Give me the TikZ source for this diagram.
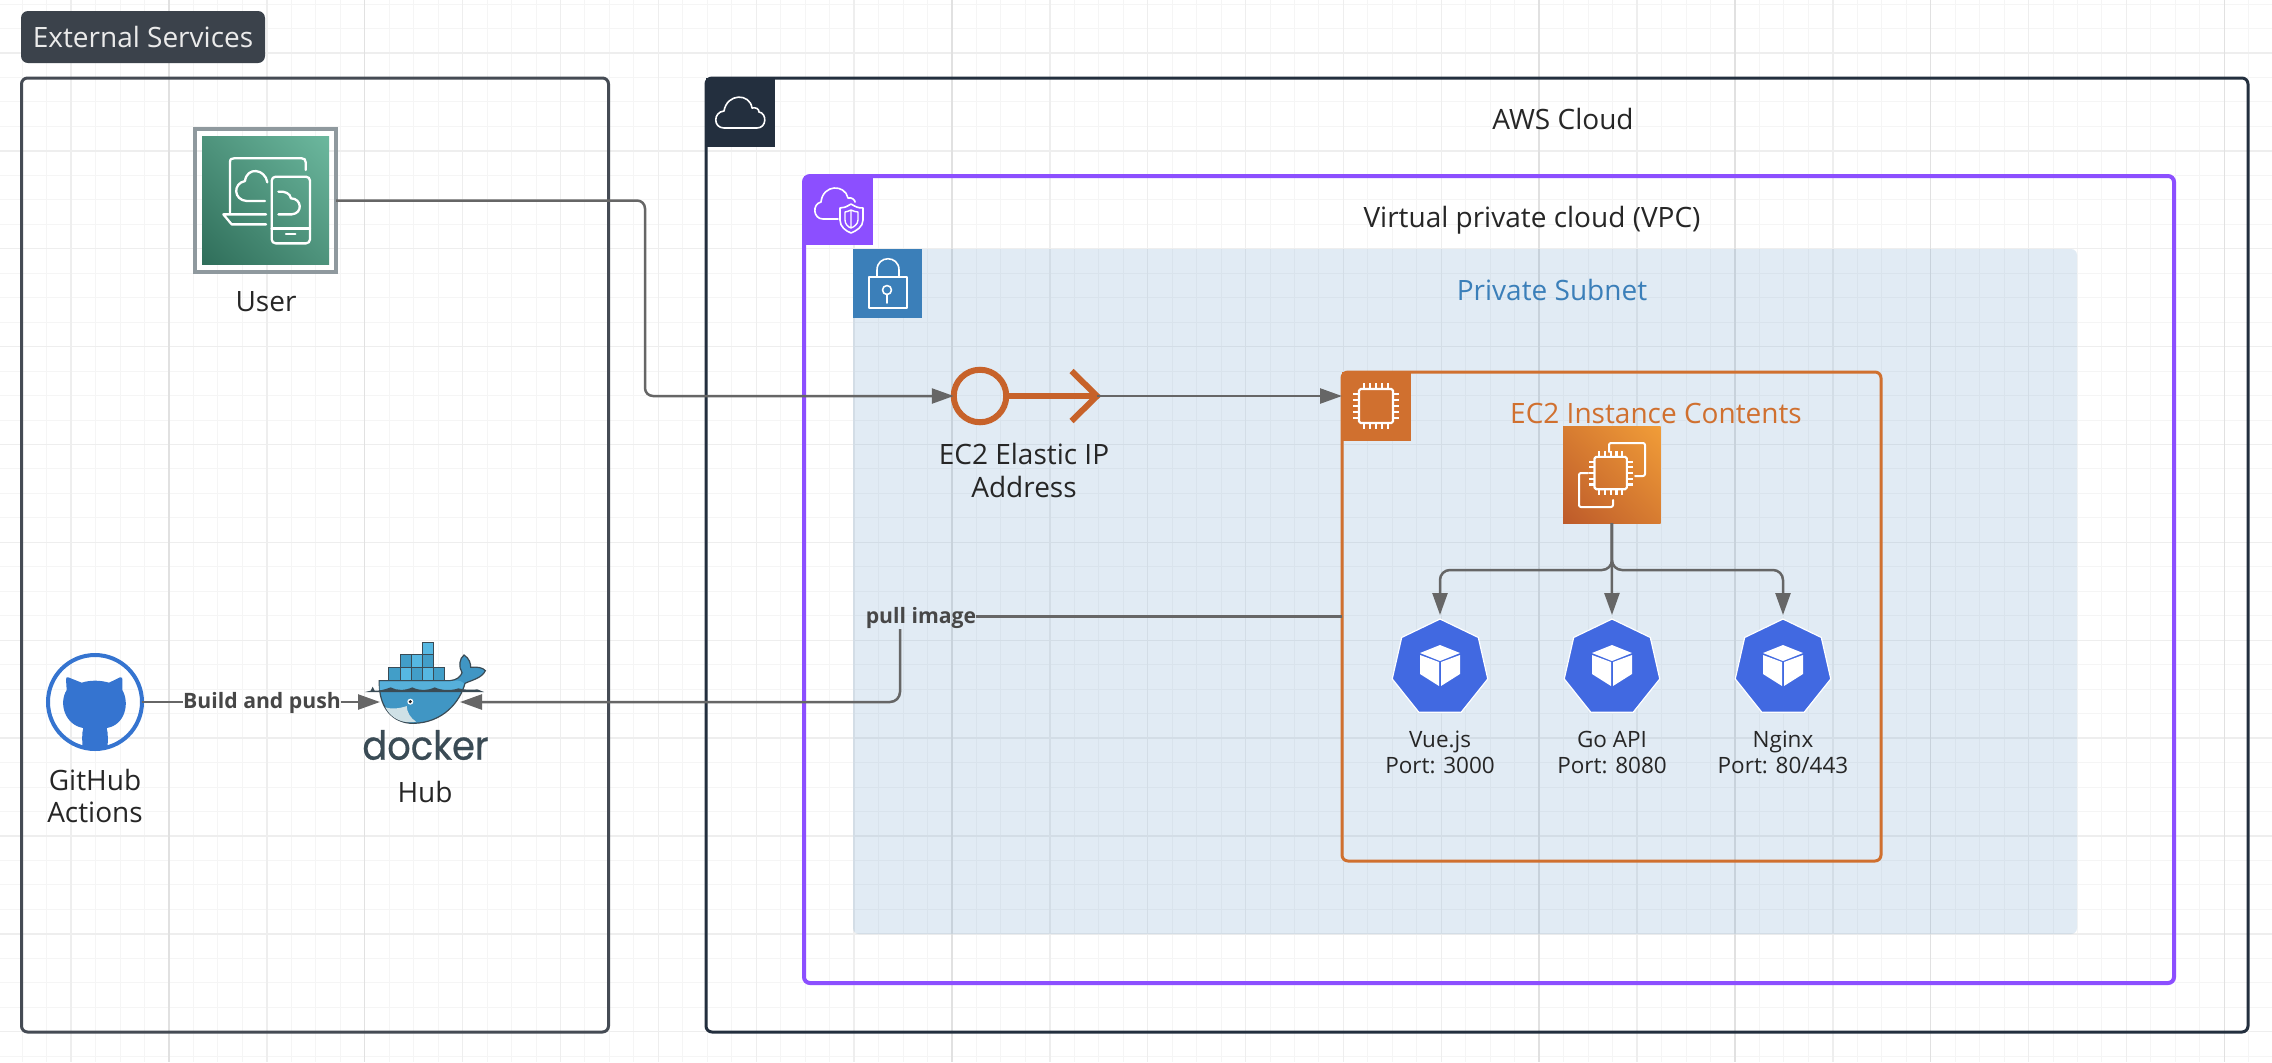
\documentclass[tikz,border=0pt]{standalone}
\usepackage{fontspec}
\usepackage{xcolor}
\setmainfont{Open Sans}
\newfontfamily\dockerfont[FakeBold=.6]{Poppins}
\usetikzlibrary{arrows.meta,shapes.geometric,shadings}
\definecolor{gridfine}{HTML}{F5F5F5}
\definecolor{gridmid}{HTML}{EEEEEE}
\definecolor{gridmajor}{HTML}{E1E1E1}
\definecolor{slate}{HTML}{3B424B}
\definecolor{awsdark}{HTML}{232F3E}
\definecolor{vpcpurple}{HTML}{8C4FFF}
\definecolor{subnetblue}{HTML}{3B7FB9}
\definecolor{ec2orange}{HTML}{D0702F}
\definecolor{eiporange}{HTML}{C7622A}
\definecolor{kubeblue}{HTML}{4169E1}
\definecolor{octoblue}{HTML}{3574D0}
\definecolor{flowgray}{HTML}{666666}
\definecolor{framegray}{HTML}{8F999E}
\definecolor{dockerdark}{HTML}{3A4B55}
\definecolor{dockerlight}{HTML}{56B8E2}
\definecolor{dockermid}{HTML}{429EC8}
\definecolor{whalebody}{HTML}{4096C4}
\definecolor{whaletop}{HTML}{56B0DA}
\definecolor{whalebelly}{HTML}{CFE1E6}
\definecolor{userlow}{HTML}{2F6E5A}
\definecolor{usermid}{HTML}{4E937C}
\definecolor{userhigh}{HTML}{6CB89E}
\definecolor{ec2low}{HTML}{BD5A2A}
\definecolor{ec2mid}{HTML}{D77C31}
\definecolor{ec2high}{HTML}{F19D38}

\begin{document}
\begin{tikzpicture}[x=0.5pt,y=-0.5pt]
\tikzset{every node/.style={inner sep=0pt,outer sep=0pt,text=black!85}}
\tikzset{label/.style={font=\fontsize{14}{16.5}\selectfont,align=center}}
\tikzset{small/.style={font=\fontsize{11.25}{13}\selectfont,align=center}}
\tikzset{edgetext/.style={font=\fontsize{10.6}{12}\selectfont\bfseries,text=black!72}}
\tikzset{frame/.style={draw,rounded corners=3pt,line width=1.5pt}}
\tikzset{tab/.style={minimum size=34.5pt,anchor=north west}}
\tikzset{flow/.style={flowgray,line width=1.25pt,-{Triangle[length=11pt,width=7.5pt]}}}
\tikzset{plain/.style={flowgray,line width=1.25pt}}
\tikzset{icon/.style={white,line width=1.1pt,line join=round,line cap=round}}
\tikzset{kube/.style={regular polygon,regular polygon sides=7,minimum size=49pt,fill=kubeblue,draw=white,line width=.6pt}}
\tikzset{cube/.pic={
  \fill[white] (0,-20) -- (20,-12) -- (0,-4) -- (-20,-12) -- cycle;
  \fill[white] (-20,-10) -- (-1,-3) -- (-1,21) -- (-20,9) -- cycle;
  \fill[white] (20,-10) -- (1,-3) -- (1,21) -- (20,9) -- cycle;
}}
\tikzset{chip/.pic={
  \draw[icon,rounded corners=.8pt] (-17,-17) rectangle (17,17);
  \foreach \p in {-12,-6,0,6,12}{
    \draw[icon,line cap=butt] (\p,-17) -- (\p,-23);
    \draw[icon,line cap=butt] (\p,17) -- (\p,23);
    \draw[icon,line cap=butt] (-17,\p) -- (-23,\p);
    \draw[icon,line cap=butt] (17,\p) -- (23,\p);
  }
}}

\useasboundingbox (0,0) rectangle (2272,1062);
\fill[white] (0,0) rectangle (2272,1062);

\foreach \i in {-6,...,85}{\draw[gridfine,line width=.5pt] ({169+24.4675*\i},0) -- ({169+24.4675*\i},1062);}
\foreach \i in {-2,...,41}{\draw[gridfine,line width=.5pt] (0,{53+24.4675*\i}) -- (2272,{53+24.4675*\i});}
\foreach \i in {-1,...,21}{\draw[gridmid,line width=.7pt] ({169+97.87*\i},0) -- ({169+97.87*\i},1062);}
\foreach \i in {0,...,10}{\draw[gridmid,line width=.7pt] (0,{53+97.87*\i}) -- (2272,{53+97.87*\i});}
\foreach \i in {0,2,8,14,16,18,21}{\draw[gridmajor,line width=.7pt] ({169+97.87*\i},0) -- ({169+97.87*\i},1062);}

\node[fill=slate,rounded corners=3.5pt,minimum width=122pt,minimum height=26pt,label,text=white!92!black] (exttitle) at (143,37) {External Services};
\node[frame,draw=slate!95!white,minimum width=293.5pt,minimum height=477pt] (extbox) at (315,555) {};
\node[frame,draw=awsdark,minimum width=771pt,minimum height=477pt] (awsbox) at (1477,555) {};
\node[tab,fill=awsdark] (awstab) at (awsbox.north west) {};
\node[label] (awstitle) at (1563,119) {AWS Cloud};
\node[frame,draw=vpcpurple,line width=2pt,minimum width=685pt,minimum height=403.5pt] (vpcbox) at (1489,579.5) {};
\node[tab,fill=vpcpurple] (vpctab) at (vpcbox.north west) {};
\node[label] (vpctitle) at (1532,220) {Virtual private cloud (VPC)};
\node[fill=subnetblue,fill opacity=.15,rounded corners=3pt,minimum width=612pt,minimum height=342.5pt] (subnet) at (1465,591.5) {};
\node[tab,fill=subnetblue] (subnettab) at (subnet.north west) {};
\node[label,text=subnetblue] (subnettitle) at (1552,290) {Private Subnet};
\node[frame,draw=ec2orange,minimum width=269.5pt,minimum height=244.5pt] (ec2box) at (1611.5,616.5) {};
\node[tab,fill=ec2orange] (ec2tab) at (ec2box.north west) {};
\node[label,text=ec2orange] (ec2title) at (1656,413) {EC2 Instance Contents};

\draw[icon,line width=.8pt] (724,128) .. controls (713,128) and (713,112) .. (724,111) .. controls (727,93) and (750,93) .. (752,108) .. controls (756,107) and (759,109) .. (759,112) .. controls (767,113) and (767,128) .. (757,128) -- cycle;
\draw[icon,line width=.8pt] (838,219) -- (823,219) .. controls (813,219) and (812,204) .. (821,202) .. controls (823,184) and (845,184) .. (848,198) .. controls (852,197) and (855,200) .. (855,202);
\draw[icon,line width=.8pt] (851,204) .. controls (846,207) and (844,208) .. (840,208) -- (840,220) .. controls (840,227) and (846,231) .. (851,233) .. controls (856,231) and (863,227) .. (863,220) -- (863,208) .. controls (858,208) and (856,207) .. (851,204) -- cycle;
\draw[icon,line width=.7pt] (851,210) .. controls (848,211) and (847,212) .. (845,212) -- (845,220) .. controls (845,224) and (848,227) .. (851,228) .. controls (854,227) and (858,224) .. (858,220) -- (858,212) .. controls (855,212) and (854,211) .. (851,210) -- cycle (851,210) -- (851,228);
\draw[icon,line width=.8pt,line cap=butt] (869,277) rectangle (907,308);
\draw[icon,line width=.8pt,line cap=butt] (877,277) -- (877,270) .. controls (877,255) and (899,255) .. (899,270) -- (899,277);
\draw[icon,line width=.8pt] (887,290) circle (4.5);
\draw[icon,line width=.8pt] (887,295) -- (887,303);
\pic at (1376,406) {chip};

\node[draw=framegray,line width=2pt,minimum width=70.5pt,minimum height=71.5pt] (user) at (265.5,200.5) {};
\node[minimum width=63.5pt,minimum height=63.8pt,lower left=userlow,upper right=userhigh,upper left=usermid,lower right=usermid] (usericon) at (265.7,200.5) {};
\begin{scope}[shift={(190,125)},x=0.1667pt,y=-0.1667pt]
\draw[icon,line width=1.15pt] (120,262) -- (120,112) .. controls (120,102) and (124,100) .. (132,100) -- (335,100) .. controls (343,100) and (347,104) .. (347,112) -- (347,135);
\draw[icon,line width=1.15pt] (228,268) -- (100,268) -- (125,298) -- (228,298);
\draw[icon,line width=1.15pt] (225,228) -- (170,228) .. controls (130,225) and (128,175) .. (165,168) .. controls (170,125) and (225,130) .. (232,172);
\draw[icon,line width=1.15pt,rounded corners=2pt] (245,155) rectangle (360,355);
\draw[icon,line width=1.15pt] (245,310) -- (360,310);
\draw[icon,line width=1.15pt] (288,327) -- (316,327);
\draw[icon,line width=1.15pt] (265,200) .. controls (285,198) and (300,205) .. (303,220) .. controls (335,220) and (340,265) .. (305,268) -- (265,268);
\end{scope}
\node[label] (usertext) at (266,302) {User};

\node[draw=octoblue,line width=2pt,circle,minimum size=47pt] (github) at (95,702) {};
\begin{scope}[shift={(35,640)},x=0.1667pt,y=-0.1667pt]
\fill[octoblue] (100,112) -- (140,128) .. controls (165,120) and (195,120) .. (222,128) -- (255,112) .. controls (262,110) and (262,115) .. (262,118) -- (262,150) .. controls (285,190) and (270,255) .. (215,264) .. controls (220,280) and (218,300) .. (218,322) .. controls (195,332) and (165,332) .. (142,322) .. controls (142,300) and (140,280) .. (145,264) .. controls (90,255) and (70,190) .. (95,150) -- (93,118) .. controls (93,113) and (96,110) .. (100,112) -- cycle;
\end{scope}
\node[label] (githubtext) at (95,796) {GitHub\\[-.4pt]Actions};

\node[minimum width=40pt,minimum height=1pt] (dockerhub) at (420,702) {};
\begin{scope}[shift={(350,630)},x=0.1667pt,y=-0.1667pt]
\foreach \cx/\cy in {216/36,183/74,150/112,216/112}{
  \filldraw[draw=dockerdark,line width=.4pt,fill=dockerlight] (\cx,\cy) rectangle ++(34,38);
}
\foreach \cx/\cy in {150/74,216/74,116/112,183/112,250/112}{
  \filldraw[draw=dockerdark,line width=.4pt,fill=dockermid] (\cx,\cy) rectangle ++(34,38);
}
\filldraw[draw=dockerdark,line width=.6pt,fill=whalebody] (88,152) -- (300,152) .. controls (320,150) and (332,140) .. (336,128) .. controls (325,110) and (328,85) .. (342,75) .. controls (358,85) and (362,100) .. (362,112) .. controls (380,110) and (398,112) .. (406,122) .. controls (395,145) and (365,150) .. (345,160) .. controls (330,215) and (280,278) .. (190,280) .. controls (130,280) and (85,235) .. (88,152) -- cycle;
\fill[whaletop] (89,154) -- (300,154) .. controls (318,152) and (328,148) .. (342,160) -- (335,180) -- (89,180) -- cycle;
\fill[dockerdark] (45,186) -- (62,182) -- (68,170) -- (74,182) .. controls (90,182) and (100,180) .. (122,172) .. controls (140,182) and (165,182) .. (187,172) .. controls (205,182) and (235,182) .. (254,172) .. controls (275,182) and (305,182) .. (325,175) .. controls (345,180) and (365,180) .. (382,178) -- (402,186) -- cycle;
\fill[whalebelly] (106,232) .. controls (130,240) and (160,232) .. (170,228) .. controls (170,245) and (182,265) .. (198,275) .. controls (160,282) and (125,268) .. (106,232) -- cycle;
\fill[white] (181,215) circle (9);
\fill[black!85] (181,215) circle (5);
\end{scope}
\node[font=\dockerfont\fontsize{20}{20}\selectfont,text=dockerdark,xscale=.92] (dockerword) at (425.5,745) {docker};
\node[label] (hubtext) at (425,792) {Hub};

\node[draw=eiporange,line width=3pt,circle,minimum size=26.25pt] (eip) at (980,396) {};
\coordinate (eiphead) at (1097,396);
\draw[eiporange,line width=3pt] (eip.east) -- (eiphead);
\draw[eiporange,line width=3pt,miter limit=10] (1071.5,371) -- (eiphead) -- (1071.5,421);
\node[label] (eiptext) at (1024,470) {EC2 Elastic IP\\Address};

\node[minimum width=48.75pt,minimum height=48.5pt,lower left=ec2low,upper right=ec2high,upper left=ec2mid,lower right=ec2mid] (ec2icon) at (1611.75,474.5) {};
\pic[scale=.95] at (1610.7,473) {chip};
\draw[icon,line width=1pt,rounded corners=1pt] (1609,452) -- (1609,443) -- (1645,443) -- (1645,476) -- (1635,476);
\draw[icon,line width=1pt,rounded corners=1pt] (1588,473) -- (1579,473) -- (1579,507) -- (1613,507) -- (1613,500);

\node[kube] (vue) at (1440,668) {};
\node[kube] (goapi) at (1612,668) {};
\node[kube] (nginx) at (1783,668) {};
\pic at (1440,665) {cube};
\pic at (1612,665) {cube};
\pic at (1783,665) {cube};
\node[small] (vuetext) at (1440,752) {Vue.js\\Port: 3000};
\node[small] (gotext) at (1612,752) {Go API\\Port: 8080};
\node[small] (nginxtext) at (1783,752) {Nginx\\Port: 80/443};

\coordinate (userdrop) at (645,300);
\draw[flow,rounded corners=4pt] (user.east) -| (userdrop) |- (eip.west);
\draw[flow] (eiphead) -- (eiphead -| ec2box.west);
\coordinate (split) at (1612,570);
\draw[flow,rounded corners=5pt,shorten >=2pt] (ec2icon.south) -- (split) -| (vue.north);
\draw[flow,rounded corners=5pt,shorten >=2pt] (ec2icon.south) -- (split) -| (nginx.north);
\draw[flow,shorten >=2pt] (ec2icon.south) -- (goapi.north);

\node[edgetext] (pull) at (921,618) {pull image};
\coordinate (pulltop) at (900,629);
\draw[plain] (ec2box.west) -- (pull.east |- ec2box.west);
\draw[flow,rounded corners=5pt] (pulltop) |- (dockerhub.east);

\node[edgetext] (build) at (262,703) {Build and push};
\draw[plain] (github.east) -- (build.west |- github.east);
\draw[flow] (build.east |- dockerhub.west) -- (dockerhub.west);
\end{tikzpicture}
\end{document}
